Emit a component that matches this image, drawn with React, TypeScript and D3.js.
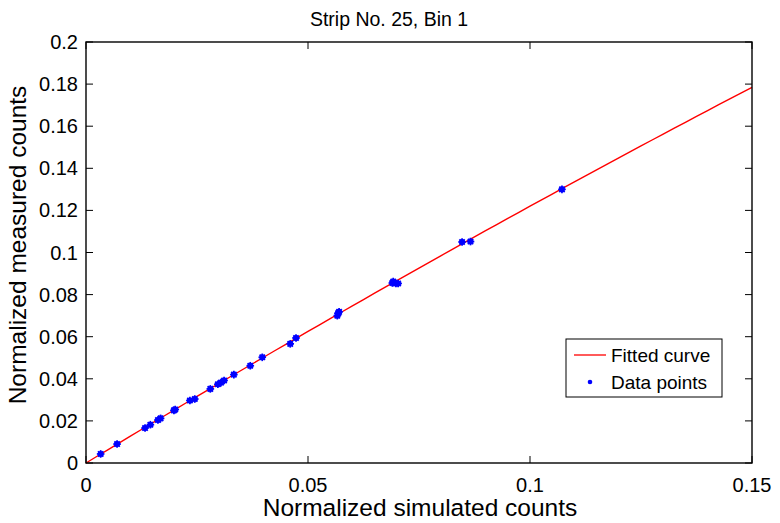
import React from "react";
import * as d3 from "d3";

const simX = [0.0033, 0.0070, 0.0133, 0.0145, 0.0162, 0.0168, 0.0198, 0.0201, 0.0234, 0.0245, 0.0280, 0.0297, 0.0304, 0.0311, 0.0333, 0.0370, 0.0397, 0.0460, 0.0473, 0.0566, 0.0568, 0.0570, 0.0690, 0.0692, 0.0698, 0.0703, 0.0847, 0.0866, 0.1072];
const measY = [0.0043, 0.0090, 0.0166, 0.0182, 0.0204, 0.0212, 0.0250, 0.0254, 0.0297, 0.0304, 0.0352, 0.0374, 0.0382, 0.0392, 0.0420, 0.0462, 0.0502, 0.0566, 0.0594, 0.0700, 0.0712, 0.0718, 0.0855, 0.0862, 0.0853, 0.0853, 0.1050, 0.1052, 0.1300];
// fitted quadratic curve: y = c1*x + c2*x^2
const fitCoef = [1.28, -0.6];
const xTicks = [0, 0.05, 0.1, 0.15];
const yTicks = [0, 0.02, 0.04, 0.06, 0.08, 0.1, 0.12, 0.14, 0.16, 0.18, 0.2];

const W = 780, H = 523;
const L = 86, R = 752, T = 42, B = 463;
const font = "'Liberation Sans', Arial, Helvetica, sans-serif";

function Star({ cx, cy }: { cx: number; cy: number }) {
  const r = 3.8;
  const lines = [0, 45, 90, 135].map((a) => {
    const rad = (a * Math.PI) / 180;
    return (
      <line key={a} x1={cx - r * Math.cos(rad)} y1={cy - r * Math.sin(rad)} x2={cx + r * Math.cos(rad)} y2={cy + r * Math.sin(rad)} stroke="#0000ff" strokeWidth={1.7} />
    );
  });
  return (
    <g>
      <circle cx={cx} cy={cy} r={3} fill="#0000ff" />
      {lines}
    </g>
  );
}

export default function App() {
  const x = d3.scaleLinear().domain([0, 0.15]).range([L, R]);
  const y = d3.scaleLinear().domain([0, 0.2]).range([B, T]);
  const fitX = d3.range(0, 0.15001, 0.0025);
  const fit = d3.line<number>().x((d) => x(d)).y((d) => y(fitCoef[0] * d + fitCoef[1] * d * d));
  const tl = 7;
  return (
    <svg width={W} height={H} style={{ position: "absolute", left: 0, top: 0 }} fontFamily={font}>
      <rect x={0} y={0} width={W} height={H} fill="#fff" />
      <text x={(L + R) / 2 - 30} y={26} textAnchor="middle" fontSize={19.5}>Strip No. 25, Bin 1</text>
      {xTicks.map((t) => (
        <g key={"x" + t}>
          <line x1={x(t)} x2={x(t)} y1={B} y2={B - tl} stroke="#000" />
          <line x1={x(t)} x2={x(t)} y1={T} y2={T + tl} stroke="#000" />
          <text x={x(t)} y={B + 29} textAnchor="middle" fontSize={20}>{String(t)}</text>
        </g>
      ))}
      {yTicks.map((t) => (
        <g key={"y" + t}>
          <line x1={L} x2={L + tl} y1={y(t)} y2={y(t)} stroke="#000" />
          <line x1={R} x2={R - tl} y1={y(t)} y2={y(t)} stroke="#000" />
          <text x={L - 8} y={y(t) + 7} textAnchor="end" fontSize={20}>{String(t)}</text>
        </g>
      ))}
      <path d={fit(fitX) || ""} stroke="#ff0000" strokeWidth={1.4} fill="none" />
      {simX.map((v, i) => (
        <Star key={i} cx={x(v)} cy={y(measY[i])} />
      ))}
      <rect x={L} y={T} width={R - L} height={B - T} fill="none" stroke="#000" strokeWidth={1.4} />
      <text x={420} y={516} textAnchor="middle" fontSize={24.5}>Normalized simulated counts</text>
      <text transform={`translate(26, ${245}) rotate(-90)`} textAnchor="middle" fontSize={24.5}>Normalized measured counts</text>
      <g>
        <rect x={566} y={339} width={156} height={58} fill="#fff" stroke="#000" strokeWidth={1} />
        <line x1={574} x2={606} y1={355} y2={355} stroke="#ff0000" strokeWidth={1.3} />
        <text x={611} y={362} fontSize={19}>Fitted curve</text>
        <circle cx={590} cy={382} r={2.3} fill="#0000ff" />
        <text x={611} y={389} fontSize={19}>Data points</text>
      </g>
    </svg>
  );
}
